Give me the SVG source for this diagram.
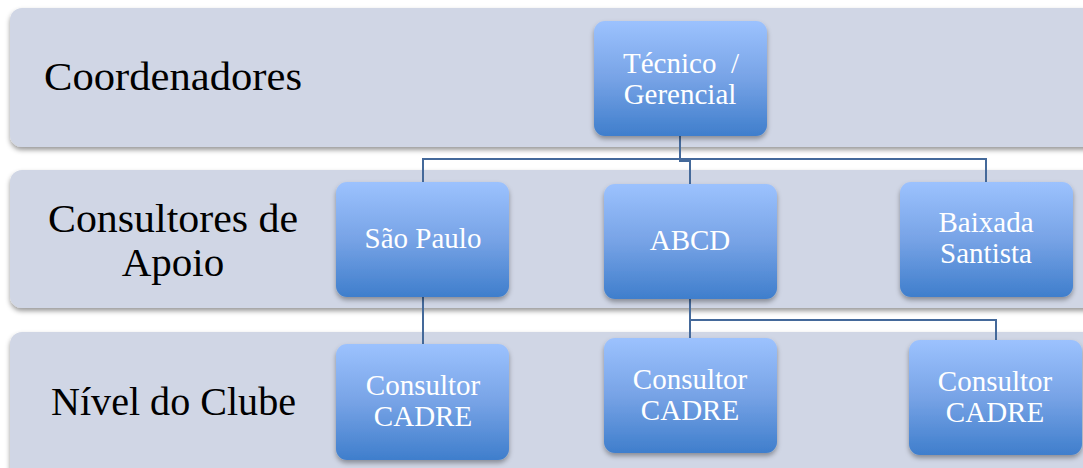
<svg xmlns="http://www.w3.org/2000/svg" width="1083" height="468" viewBox="0 0 1083 468">
<style>
.band{fill:#d0d6e5;filter:url(#bs)}
.node rect{fill:url(#ng);filter:url(#ns)}
.lbl{font-family:"Liberation Serif",Cambria,serif;font-size:41px;fill:#000}
.nt{font-family:"Liberation Serif",Cambria,serif;font-size:29px;fill:#fff;text-anchor:middle}
.con path{fill:none;stroke:#44699a;stroke-width:2}
</style>
<defs>
<linearGradient id="ng" x1="0" y1="0" x2="0" y2="1">
<stop offset="0" stop-color="#9cc2fe"/>
<stop offset="0.5" stop-color="#77a3e6"/>
<stop offset="1" stop-color="#3f7ecc"/>
</linearGradient>
<filter id="bs" x="-5%" y="-10%" width="110%" height="125%">
<feDropShadow dx="0" dy="3" stdDeviation="2.5" flood-color="#000" flood-opacity="0.4"/>
</filter>
<filter id="ns" x="-10%" y="-10%" width="120%" height="125%">
<feDropShadow dx="0" dy="3" stdDeviation="2.5" flood-color="#000" flood-opacity="0.35"/>
</filter>
</defs>
<rect width="1083" height="468" fill="#fff"/>
<g id="band1"><rect class="band" x="10" y="8" width="1090" height="139" rx="12"/><text class="lbl" x="44" y="90" textLength="258" lengthAdjust="spacingAndGlyphs">Coordenadores</text></g>
<g id="band2"><rect class="band" x="10" y="170" width="1090" height="138" rx="12"/><text class="lbl" x="48" y="232" textLength="250" lengthAdjust="spacingAndGlyphs">Consultores de</text><text class="lbl" x="173" y="276" text-anchor="middle">Apoio</text></g>
<g id="band3"><rect class="band" x="10" y="332" width="1090" height="150" rx="12"/><text class="lbl" x="51" y="415" textLength="245" lengthAdjust="spacingAndGlyphs">Nível do Clube</text></g>
<g class="con" id="connectors">
<path d="M680,136 V159 H423 V182"/>
<path d="M680,159 V161 H690 V184"/>
<path d="M680,159 H986 V182"/>
<path d="M423,297 V344"/>
<path d="M690,299 V338"/>
<path d="M690,320 H996 V340"/>
</g>
<g class="node" id="tecnico"><rect x="594" y="21" width="173" height="115" rx="11"/><text class="nt" x="681" y="73" xml:space="preserve">Técnico  /</text><text class="nt" x="680" y="104">Gerencial</text></g>
<g class="node" id="saopaulo"><rect x="336" y="182" width="173" height="115" rx="11"/><text class="nt" x="423" y="248">São Paulo</text></g>
<g class="node" id="abcd"><rect x="604" y="184" width="173" height="115" rx="11"/><text class="nt" x="690" y="250">ABCD</text></g>
<g class="node" id="baixada"><rect x="900" y="182" width="173" height="115" rx="11"/><text class="nt" x="986" y="232">Baixada</text><text class="nt" x="986" y="263">Santista</text></g>
<g class="node" id="cadre1"><rect x="336" y="344" width="173" height="116" rx="11"/><text class="nt" x="423" y="395">Consultor</text><text class="nt" x="423" y="426">CADRE</text></g>
<g class="node" id="cadre2"><rect x="604" y="338" width="173" height="115" rx="11"/><text class="nt" x="690" y="389">Consultor</text><text class="nt" x="690" y="420">CADRE</text></g>
<g class="node" id="cadre3"><rect x="909" y="340" width="173" height="115" rx="11"/><text class="nt" x="995" y="391">Consultor</text><text class="nt" x="995" y="422">CADRE</text></g>
</svg>
